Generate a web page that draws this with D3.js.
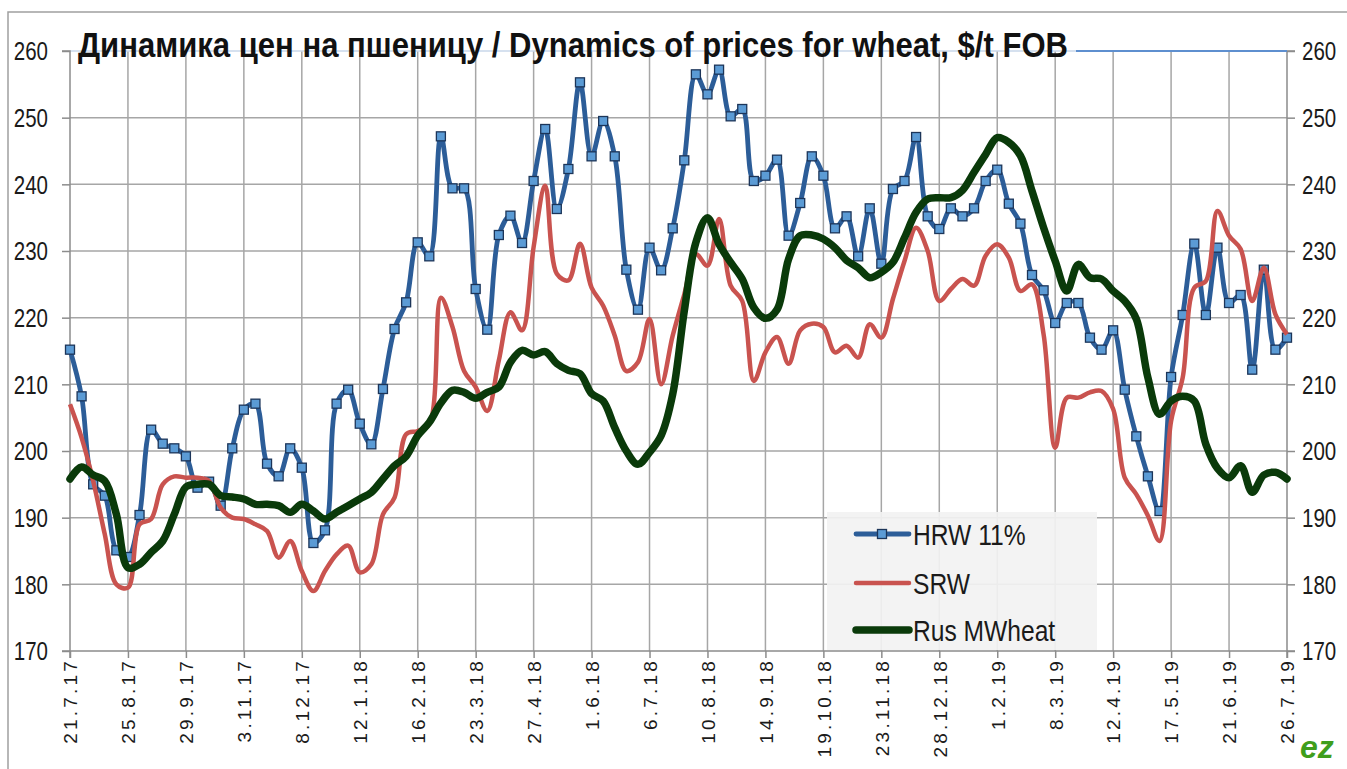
<!DOCTYPE html>
<html><head><meta charset="utf-8">
<script src="https://cdn.jsdelivr.net/npm/d3@7"></script>
<style>
html,body{margin:0;padding:0;background:#fff;}
svg{display:block;}
text{font-family:"Liberation Sans",Arial,sans-serif;}
</style></head>
<body>
<script>
// ---------- DATA ----------
const tickLabels = ["21.7.17","25.8.17","29.9.17","3.11.17","8.12.17","12.1.18","16.2.18","23.3.18","27.4.18","1.6.18","6.7.18","10.8.18","14.9.18","19.10.18","23.11.18","28.12.18","1.2.19","8.3.19","12.4.19","17.5.19","21.6.19","26.7.19"];
const startDate = new Date(2017, 6, 21);
const nWeeks = 106;
const categories = d3.range(nWeeks).map(i => d3.timeFormat("%-d.%-m.%y")(d3.timeDay.offset(startDate, 7 * i)));

const seriesNames = ["HRW 11%", "SRW", "Rus MWheat"];

const hrw = [215.2,208.2,195,193.3,185.1,184.1,190.4,203.2,201.1,200.4,
199.2,194.5,195.4,191.8,200.4,206.2,207.1,198.1,196.2,200.4,
197.5,186.2,188.1,207.1,209.2,204.1,201,209.3,218.3,222.3,
231.3,229.2,247.2,239.4,239.4,224.3,218.2,232.4,235.3,231.2,
240.5,248.3,236.3,242.3,255.3,244.2,249.5,244.2,227.2,221.2,
230.5,227.1,233.4,243.6,256.5,253.5,257.2,250.2,251.3,240.5,
241.3,243.7,232.3,237.2,244.2,241.3,233.4,235.2,229.2,236.4,
228.1,239.3,240.5,247.1,235.2,233.3,236.4,235.2,236.4,240.5,
242.2,237.1,234.1,226.4,224.1,219.2,222.2,222.2,217,215.2,
218.1,209.2,202.2,196.2,191,211.1,220.4,231.1,220.4,230.5,
222.2,223.4,212.2,227.2,215.2,217];

const srw = [207,202,195.5,187.5,180,179.5,189,189.8,195,196.2,
196,196,195.5,191.5,190,189.8,189,188,184,186.5,
182,179,182,184.5,185.8,181.8,183,190.5,193,202.5,
203,204,223,218.6,212,209.6,206,213.6,220.8,218.1,
230.6,239.8,226.6,225.6,231.1,224.5,221.8,217.3,212,213.3,
219.8,210,217.3,223.5,229.5,227.8,234.8,224.8,222.5,210.5,
214.8,217.1,213.1,218.1,219.1,218.6,214.8,215.8,214,219,
217,222.8,228.5,233.5,230,222.5,224.3,225.8,224.8,229.3,
231,229,224,225,217.5,200.5,208,208,208.8,209,
206.3,196,193.5,190.3,186.5,204.5,211,224.5,225.5,236,
232.3,230.3,222.5,227.5,220.5,217.5];

const rus = [195.8,197.6,196.4,195.5,190.5,182.5,183,184.8,186.5,190.5,
194.6,195,195,193.3,193.1,192.8,192,192,191.8,190.8,
192,191,189.8,190.8,191.8,192.8,193.8,195.8,197.8,199.2,
202.3,204.3,207.2,209.1,208.8,207.9,208.8,209.6,213.3,215.1,
214.4,214.9,213.1,212.1,211.6,208.6,207.5,203.5,200,198,
199.8,202.3,208.5,221,231.3,235,231,228.3,225.8,221.5,
219.9,221.2,228.8,232.3,232.4,231.8,230.5,228.6,227.5,226,
226.8,228.3,232,235.8,237.8,238,238,239.1,241.8,244.5,
247,246.3,244.3,239,233.5,228.5,224,228,226,225.8,
224,222.5,219.8,211,205.5,207.5,208.2,207.5,201,197.4,
196,197.8,193.8,196.4,196.8,195.8];

const yTicks = [170,180,190,200,210,220,230,240,250,260];
const titleText = "Динамика цен на пшеницу / Dynamics of prices for wheat, $/t FOB";

// ---------- LAYOUT ----------
const W = 1347, H = 769;
const plot = {left: 70, right: 1287, top: 51, bottom: 651};
const colors = {hrw: "#2c5d98", marker: "#5b9bd5", markerStroke: "#1c3559", srw: "#c9534f", rus: "#0a3a0a", grid: "#a6a6a6", axis: "#8c8c8c", text: "#1a1a1a"};

const svg = d3.select("body").append("svg").attr("width", W).attr("height", H);
svg.append("rect").attr("width", W).attr("height", H).attr("fill", "#fff");

function narrow(sel, f) {
  sel.each(function () {
    const L = this.getComputedTextLength();
    d3.select(this).attr("textLength", L * f).attr("lengthAdjust", "spacingAndGlyphs");
  });
}

// outer frame
svg.append("path").attr("d", `M8,${H} L8,12 L${W},12`).attr("fill", "none").attr("stroke", "#a0a0a0").attr("stroke-width", 1.5);

const x = d3.scaleLinear().domain([0, nWeeks - 1]).range([plot.left, plot.right]);
const y = d3.scaleLinear().domain([170, 260]).range([plot.bottom, plot.top]);

// gridlines
const g = svg.append("g");
g.selectAll("line.h").data(yTicks.filter(v => v > 170 && v < 260)).join("line")
  .attr("x1", plot.left).attr("x2", plot.right).attr("y1", d => y(d)).attr("y2", d => y(d))
  .attr("stroke", colors.grid).attr("stroke-width", 1.5);
const vIdx = d3.range(5, nWeeks - 1, 5);
g.selectAll("line.v").data(vIdx).join("line")
  .attr("x1", d => x(d)).attr("x2", d => x(d)).attr("y1", plot.top).attr("y2", plot.bottom)
  .attr("stroke", colors.grid).attr("stroke-width", 1.5);

// top line (260)
svg.append("line").attr("x1", plot.left).attr("x2", plot.right)
  .attr("y1", y(260)).attr("y2", y(260)).attr("stroke", "#c9d7ea").attr("stroke-width", 1.5);

// axes
const yAxisL = d3.axisLeft(y).tickValues(yTicks).tickSize(8).tickPadding(14).tickFormat(d3.format("d"));
const yAxisR = d3.axisRight(y).tickValues(yTicks).tickSize(8).tickPadding(7).tickFormat(d3.format("d"));
const xAxis = d3.axisBottom(x).tickValues(d3.range(0, nWeeks, 5)).tickSize(7).tickFormat(i => tickLabels[i / 5]);

const gl = svg.append("g").attr("transform", `translate(${plot.left},0)`).call(yAxisL);
const gr = svg.append("g").attr("transform", `translate(${plot.right},0)`).call(yAxisR);
const gx = svg.append("g").attr("transform", `translate(0,${plot.bottom})`).call(xAxis);

[gl, gr, gx].forEach(a => {
  a.select(".domain").attr("stroke", colors.axis).attr("stroke-width", 1.5);
  a.selectAll(".tick line").attr("stroke", colors.axis).attr("stroke-width", 1.5);
});
gl.selectAll(".domain").attr("d", `M-8,${plot.top}H0V${plot.bottom}H-8`);
gr.selectAll(".domain").attr("d", `M8,${plot.top}H0V${plot.bottom}H8`);
gx.selectAll(".domain").attr("d", `M${plot.left},7V0H${plot.right}V7`);

[gl, gr].forEach(a => {
  a.selectAll(".tick text").attr("font-family", "Liberation Sans, Arial, sans-serif")
    .attr("font-size", 25).attr("fill", colors.text).attr("dy", "0.35em");
  narrow(a.selectAll(".tick text"), 0.82);
});
gx.selectAll(".tick text")
  .attr("font-family", "Liberation Sans, Arial, sans-serif").attr("font-size", 19)
  .attr("fill", colors.text).attr("letter-spacing", "3.2px")
  .attr("transform", "rotate(-90)").attr("text-anchor", "end")
  .attr("x", -7).attr("y", 0).attr("dy", "0.36em");

// series
const curve = d3.curveCatmullRom.alpha(0.5);
const lineGen = d3.line().x((d, i) => x(i)).y(d => y(d)).curve(curve);

svg.append("path").datum(hrw).attr("d", lineGen).attr("fill", "none")
  .attr("stroke", colors.hrw).attr("stroke-width", 4.8).attr("stroke-linejoin", "round");
const ms = 9;
svg.append("g").selectAll("rect").data(hrw).join("rect")
  .attr("x", (d, i) => x(i) - ms / 2).attr("y", d => y(d) - ms / 2)
  .attr("width", ms).attr("height", ms)
  .attr("fill", colors.marker).attr("stroke", colors.markerStroke).attr("stroke-width", 1.3);

svg.append("path").datum(srw).attr("d", lineGen).attr("fill", "none")
  .attr("stroke", colors.srw).attr("stroke-width", 4.5).attr("stroke-linejoin", "round");

svg.append("path").datum(rus).attr("d", lineGen).attr("fill", "none")
  .attr("stroke", colors.rus).attr("stroke-width", 7.5).attr("stroke-linejoin", "round").attr("stroke-linecap", "round");

// title
const title = svg.append("text").attr("x", 78).attr("y", 57)
  .attr("font-family", "Liberation Sans, Arial, sans-serif").attr("font-weight", "bold")
  .attr("font-size", 35).attr("fill", "#111").text(titleText);
title.attr("textLength", 990).attr("lengthAdjust", "spacingAndGlyphs");
const tEnd = 78 + 990 + 8;
svg.append("line").attr("x1", tEnd).attr("x2", plot.right).attr("y1", y(260)).attr("y2", y(260))
  .attr("stroke", "#5e8fcf").attr("stroke-width", 1.8);

// legend
const lg = svg.append("g");
lg.append("rect").attr("x", 827).attr("y", 512).attr("width", 270).attr("height", 138)
  .attr("fill", "#f2f2f2").attr("fill-opacity", 0.92);
const legendItems = [
  {name: seriesNames[0], color: colors.hrw, w: 4.8, marker: true, yy: 534},
  {name: seriesNames[1], color: colors.srw, w: 4.5, marker: false, yy: 583},
  {name: seriesNames[2], color: colors.rus, w: 7.5, marker: false, yy: 630}
];
legendItems.forEach(it => {
  lg.append("line").attr("x1", 856).attr("x2", 909).attr("y1", it.yy).attr("y2", it.yy)
    .attr("stroke", it.color).attr("stroke-width", it.w).attr("stroke-linecap", "round");
  if (it.marker) lg.append("rect").attr("x", 882 - ms / 2).attr("y", it.yy - ms / 2).attr("width", ms).attr("height", ms)
    .attr("fill", colors.marker).attr("stroke", colors.markerStroke).attr("stroke-width", 1.3);
  const t = lg.append("text").attr("x", 913).attr("y", it.yy + 11)
    .attr("font-size", 30).attr("fill", colors.text).text(it.name);
  narrow(t, 0.82);
});

// logo
svg.append("text").attr("x", 1300).attr("y", 758).attr("font-size", 32).attr("font-weight", "bold")
  .attr("font-style", "italic").attr("fill", "#3f9e1c").text("ez");
</script>
</body></html>
